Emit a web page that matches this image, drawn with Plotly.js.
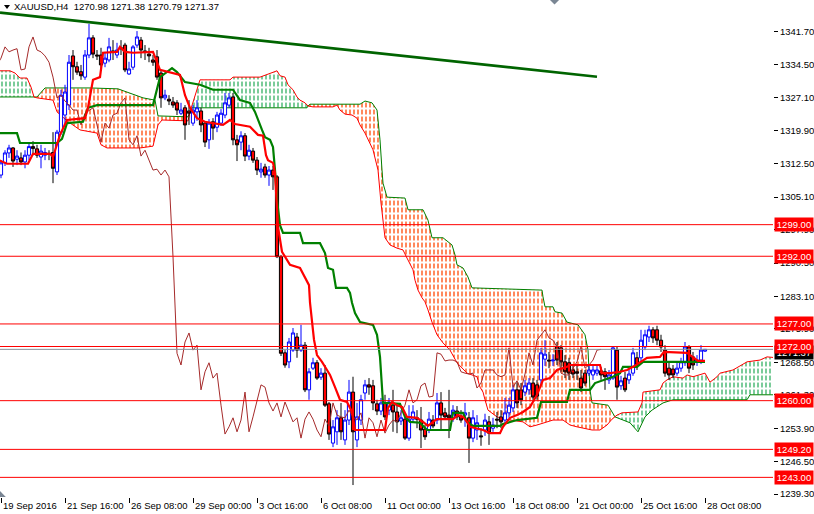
<!DOCTYPE html>
<html><head><meta charset="utf-8">
<script src="https://cdn.plot.ly/plotly-3.0.1.min.js"></script>
<style>html,body{margin:0;padding:0;background:#fff;}#chart{width:814px;height:514px;}</style>
</head><body><div id="chart"></div>
<script>
// ---- axis labels ----
const tickIdx = [0,16,32,48,64,80,96,112,128,144,160,176];
const tickLabels = ["19 Sep 2016","21 Sep 16:00","26 Sep 08:00","29 Sep 00:00","3 Oct 16:00","6 Oct 08:00","11 Oct 00:00","13 Oct 16:00","18 Oct 08:00","21 Oct 00:00","25 Oct 16:00","28 Oct 08:00"];
const priceTicks = [1341.70,1334.50,1327.10,1319.90,1312.50,1305.10,1297.90,1290.50,1283.10,1275.90,1268.50,1261.30,1253.90,1246.50,1239.30];
const levels = [1299.00,1292.00,1277.00,1272.00,1260.00,1249.20,1243.00];
const lastPrice = 1271.37;
const header = "XAUUSD,H4\u00a0\u00a01270.98 1271.38 1270.79 1271.37";

// ---- XAUUSD H4 candles (bar 0 = 19 Sep 2016 00:00) ----
const open = [1310.0,1312.7,1314.9,1316.0,1313.5,1313.8,1312.9,1314.4,1316.3,1315.8,1314.0,1314.4,1314.8,1315.0,1310.7,1319.5,1323.3,1325.5,1336.4,1334.0,
1332.9,1331.7,1336.6,1340.4,1336.6,1336.6,1334.8,1335.5,1337.5,1336.6,1338.2,1338.8,1332.4,1333.9,1338.8,1339.9,1337.5,1336.8,1335.5,1336.2,
1332.6,1327.1,1326.8,1326.2,1326.0,1323.7,1324.9,1324.2,1321.5,1324.0,1324.2,1321.5,1317.8,1321.8,1320.6,1321.5,1323.3,1325.5,1327.3,1317.8,
1317.3,1318.7,1314.2,1315.3,1313.3,1310.7,1311.8,1310.0,1311.1,1309.6,1291.9,1270.6,1268.6,1271.2,1274.1,1271.2,1272.3,1262.4,1267.2,1268.4,
1265.2,1266.1,1259.3,1250.6,1253.1,1256.2,1251.3,1255.7,1261.9,1251.3,1255.7,1261.7,1263.5,1263.3,1259.3,1257.7,1259.5,1257.9,1259.0,1257.5,
1255.5,1255.9,1251.7,1255.9,1256.2,1255.7,1253.7,1253.5,1255.7,1255.7,1259.5,1257.3,1256.8,1256.2,1257.7,1256.6,1256.8,1256.2,1251.7,1253.5,
1252.2,1253.5,1255.3,1253.9,1255.9,1256.4,1255.7,1257.3,1258.4,1262.4,1262.4,1261.9,1262.4,1263.9,1263.5,1264.6,1269.2,1269.0,1268.8,1271.9,
1271.7,1268.6,1268.4,1266.8,1266.4,1265.0,1266.1,1266.1,1265.7,1266.1,1266.6,1266.4,1264.6,1265.0,1271.2,1263.3,1265.0,1264.6,1266.1,1269.5,
1269.5,1271.9,1274.1,1275.7,1275.7,1273.4,1271.2,1267.2,1267.0,1266.1,1267.2,1268.4,1271.9,1269.7,1268.6,1269.0,1270.98];
const high = [1313.3,1315.5,1316.7,1316.2,1315.5,1315.0,1315.5,1317.0,1317.5,1316.7,1316.7,1316.0,1315.5,1319.5,1320.0,1328.9,1330.0,1336.6,1337.7,1335.1,
1334.4,1337.7,1343.5,1341.0,1337.7,1338.2,1337.3,1340.4,1339.9,1339.3,1339.9,1339.3,1335.1,1338.8,1341.9,1340.6,1338.8,1338.2,1336.6,1337.7,
1333.3,1328.9,1327.7,1327.3,1326.6,1326.0,1325.5,1326.6,1325.5,1326.6,1324.9,1321.8,1322.4,1322.6,1324.0,1324.6,1328.2,1328.2,1328.2,1318.9,
1319.7,1319.3,1316.7,1316.0,1314.0,1312.7,1312.5,1312.0,1312.0,1310.0,1292.3,1271.2,1273.9,1276.1,1275.0,1276.8,1273.0,1267.2,1269.5,1269.0,
1267.2,1267.9,1259.7,1255.7,1257.9,1259.5,1257.9,1264.6,1265.3,1259.5,1261.3,1264.6,1265.0,1264.6,1260.2,1260.6,1261.3,1260.6,1262.4,1259.0,
1257.9,1256.8,1259.0,1259.0,1257.9,1258.6,1254.6,1257.5,1256.8,1261.7,1261.9,1258.4,1262.4,1259.0,1258.8,1257.9,1259.5,1257.5,1257.9,1256.8,
1253.9,1257.1,1256.6,1256.2,1257.5,1257.9,1260.6,1260.6,1263.5,1264.1,1263.9,1264.6,1265.0,1265.0,1264.6,1271.7,1273.4,1270.8,1270.3,1273.0,
1272.3,1270.1,1269.5,1267.9,1267.9,1266.8,1266.8,1267.9,1267.7,1267.7,1267.5,1267.2,1266.8,1272.1,1271.9,1265.5,1266.4,1266.8,1271.7,1270.8,
1275.7,1275.7,1276.6,1276.3,1276.6,1274.6,1272.3,1268.4,1267.9,1268.6,1269.5,1273.0,1272.3,1270.8,1270.1,1272.3,1271.38];
const low = [1309.3,1312.0,1313.8,1311.8,1312.2,1312.2,1311.5,1313.3,1314.4,1313.8,1311.5,1313.3,1313.3,1308.2,1310.0,1318.9,1321.1,1324.4,1331.1,1332.2,
1331.1,1331.1,1335.9,1335.9,1335.5,1333.7,1333.9,1335.0,1335.5,1335.9,1336.6,1332.8,1332.2,1333.3,1338.2,1335.9,1335.5,1335.0,1334.2,1331.1,
1324.9,1326.6,1325.5,1324.9,1323.3,1323.3,1317.8,1321.1,1320.9,1322.0,1319.5,1316.2,1315.8,1317.8,1319.5,1320.9,1322.6,1324.9,1316.6,1313.1,
1315.5,1313.1,1313.3,1312.7,1310.0,1309.4,1309.4,1307.6,1306.7,1291.6,1269.9,1267.3,1267.2,1270.8,1269.5,1270.8,1261.9,1260.2,1266.8,1264.6,
1264.6,1258.6,1251.3,1249.7,1250.2,1251.3,1250.2,1254.6,1241.3,1249.7,1254.6,1260.2,1261.3,1257.9,1256.8,1256.8,1255.7,1256.8,1253.1,1252.8,
1254.6,1251.3,1251.1,1255.3,1253.9,1249.5,1251.3,1252.8,1253.9,1254.8,1253.5,1255.7,1251.7,1255.3,1255.7,1255.1,1254.2,1246.2,1250.8,1251.3,
1250.0,1252.2,1250.2,1253.1,1253.9,1253.9,1254.8,1256.2,1257.5,1258.4,1259.0,1261.0,1261.3,1260.2,1260.2,1263.7,1267.7,1267.2,1267.7,1267.9,
1266.4,1265.0,1264.6,1265.0,1264.6,1261.9,1263.3,1265.5,1264.6,1265.5,1264.6,1262.4,1263.7,1264.6,1260.2,1262.4,1261.9,1263.7,1265.5,1266.8,
1268.6,1271.2,1273.0,1272.8,1272.3,1270.8,1265.3,1264.6,1265.0,1265.5,1266.4,1267.7,1266.1,1266.8,1267.7,1268.1,1270.79];
const close = [1312.7,1314.9,1316.0,1313.1,1314.2,1312.9,1314.4,1316.3,1315.9,1314.4,1315.3,1315.0,1314.6,1311.5,1319.5,1327.7,1328.4,1335.0,1334.0,1332.8,
1332.0,1336.6,1340.4,1336.8,1336.4,1334.4,1335.9,1338.4,1337.3,1337.7,1338.0,1333.3,1333.5,1338.4,1340.6,1337.7,1337.3,1336.4,1335.0,1331.7,
1327.1,1327.7,1326.4,1325.5,1324.4,1324.4,1321.1,1323.7,1324.4,1324.9,1321.1,1317.3,1321.5,1320.4,1323.3,1323.7,1326.0,1327.1,1317.8,1316.7,
1318.7,1314.2,1315.5,1313.3,1311.1,1311.3,1310.0,1311.1,1309.6,1291.9,1270.5,1267.9,1273.0,1275.0,1271.2,1272.3,1262.4,1266.4,1268.4,1265.0,
1266.1,1259.0,1252.6,1254.2,1256.2,1253.1,1255.7,1261.9,1253.1,1256.4,1260.2,1263.5,1263.0,1259.5,1257.7,1259.5,1256.4,1259.7,1257.5,1255.3,
1256.2,1251.7,1255.9,1257.5,1255.9,1253.5,1252.0,1255.9,1254.4,1259.5,1256.8,1256.4,1256.2,1257.9,1256.4,1255.7,1257.3,1251.7,1256.2,1255.1,
1252.0,1255.7,1252.8,1254.6,1255.7,1255.3,1257.3,1259.0,1262.4,1259.5,1260.2,1263.3,1263.9,1260.8,1261.0,1270.6,1270.3,1268.8,1269.0,1269.0,
1268.6,1266.4,1266.1,1265.9,1266.1,1262.8,1263.9,1266.8,1266.8,1266.8,1265.7,1265.3,1265.7,1271.7,1263.0,1264.4,1262.4,1265.9,1270.6,1267.9,
1273.4,1274.6,1275.7,1273.9,1273.4,1271.9,1266.1,1265.7,1265.7,1267.2,1268.6,1271.9,1267.2,1267.9,1269.0,1271.2,1271.37];

// ---- Ichimoku lines (bar index, price) ----
const tenkanX = [-0.5,1.5,6.75,8,12.25,13,14.75,16.5,21,21.75,23,24.75,25.25,25.5,29,29.75,31,33,38,39,39.75,44.75,46,47.25,49,51,55.5,57.25,58.5,62.25,64.25,65.5,66.25,66.75,68,68.5,69.25,70.25,72.25,74.75,76,77,77.25,77.75,78.25,79,80.25,81.5,82.25,83.5,84.75,86.5,87.75,88.5,96,96.75,97.75,99,100.25,101.5,104,105.5,106.75,108,109,113,114.25,115.5,116.5,117.25,119,120.5,122.25,124.75,125.5,127.25,129,130.5,132.25,134,135.5,137.25,139,141.5,142.25,149.75,150.25,152.25,154.75,156.5,158,159.75,161.5,164.75,165.75,171.5,173,174.25,176];
const tenkanY = [1313.3,1312.5,1312.5,1314.7,1314.7,1314.0,1318.9,1322.2,1322.6,1324.9,1331.1,1331.7,1335.1,1337.1,1337.3,1338.4,1337.3,1337.1,1337.3,1335.1,1333.3,1332.2,1327.7,1324.9,1322.6,1321.8,1321.1,1322.2,1321.3,1320.7,1318.9,1318.7,1314.4,1313.3,1312.7,1310.5,1298.5,1293.0,1290.1,1289.4,1287.2,1285.6,1281.7,1277.2,1273.5,1270.1,1268.6,1266.8,1265.7,1263.0,1260.2,1259.7,1257.5,1253.5,1253.5,1258.4,1259.7,1259.0,1258.6,1256.4,1256.2,1255.3,1254.4,1255.3,1255.9,1255.9,1256.8,1256.4,1255.3,1254.2,1253.9,1253.5,1252.8,1252.8,1254.2,1256.2,1256.8,1257.5,1258.6,1261.3,1264.6,1265.0,1266.8,1267.5,1267.9,1267.9,1266.1,1266.1,1266.4,1266.8,1267.5,1268.6,1269.5,1269.7,1270.8,1270.6,1269.7,1268.8,1268.8];
const kijunX = [-0.5,4,4.75,14,15.25,16.5,20.5,21.75,24,38,39.75,42.75,44,46,49.75,53,58,59.75,62.25,63.5,65.25,66,67.25,68,68.5,69,69.75,70.5,74.75,75.5,79.75,81,81.75,83,83.75,86.5,87.25,87.75,88.5,89.75,93,94,94.75,95.5,99.75,101,102.25,104.75,106.5,112.25,113,115.5,116.5,118,124.75,125.5,129,134,135,141.5,142.25,147.25,148.5,151,153,154.75,155.5,159,160.5,176];
const kijunY = [1319.3,1319.3,1317.1,1317.1,1318.0,1321.5,1321.8,1324.9,1325.5,1325.5,1331.7,1333.7,1332.8,1330.6,1330.0,1328.9,1328.9,1326.6,1326.0,1324.0,1320.0,1318.4,1317.8,1316.2,1311.1,1304.5,1298.9,1297.2,1297.2,1294.9,1294.9,1292.7,1289.4,1289.0,1285.0,1285.0,1283.9,1281.7,1279.4,1277.4,1276.8,1274.6,1269.7,1259.5,1259.3,1256.4,1255.3,1255.1,1253.5,1253.5,1257.3,1257.3,1255.3,1254.4,1254.4,1254.8,1255.7,1256.2,1259.7,1259.7,1262.4,1262.4,1263.9,1264.6,1265.3,1266.1,1267.5,1267.5,1268.6,1268.6];
const spanAX = [-0.5,2.25,3.5,4.75,6.5,7,7.5,8.25,9,13,14,16.5,19.75,24,25,26.5,34.75,38,39.25,40.25,46.75,47.25,47.75,48.5,49.75,57.25,58,64.75,67.25,69,69.75,71,71.75,73,74,74.75,76,76.75,78,83,84,84.75,86,87.75,89,89.75,91,92.25,93,94.25,95,96,97.25,99,100.5,101.5,103,103.5,104.25,105.25,106,106.75,107.75,109,110.5,112.25,114,116.5,119,119.75,120.5,121,121.75,124,127.25,130.5,132.25,134,138,140.5,142.25,144,147.75,149.75,151.5,152.75,153.5,154,155.25,159.25,160.25,160.5,164.75,165.5,166.5,168,170.5,171.5,173,176,177.25,179,179.75,183,186.5,189.75,191.5,194];
const spanAY = [1333.1,1333.1,1332.6,1331.5,1331.5,1330.6,1329.5,1327.3,1327.1,1326.6,1324.0,1322.0,1320.0,1319.3,1316.7,1316.0,1316.0,1316.4,1321.1,1322.2,1322.0,1324.0,1325.5,1327.7,1331.1,1331.1,1331.7,1331.7,1332.6,1333.1,1332.0,1331.7,1330.0,1328.9,1327.3,1326.6,1326.0,1325.3,1325.1,1325.1,1325.5,1324.4,1323.5,1323.3,1322.6,1321.1,1319.3,1317.1,1315.6,1311.1,1303.8,1296.1,1294.5,1293.8,1293.4,1291.6,1289.0,1286.7,1284.5,1282.8,1281.9,1280.1,1277.4,1274.6,1272.8,1271.2,1268.4,1266.1,1265.3,1263.0,1261.9,1260.2,1257.9,1256.4,1255.7,1255.3,1254.2,1254.6,1255.7,1255.7,1254.6,1254.2,1253.5,1253.5,1254.6,1255.9,1256.4,1256.8,1257.3,1257.5,1259.5,1261.9,1262.4,1263.9,1264.6,1265.3,1265.0,1265.7,1265.3,1266.1,1264.1,1265.3,1266.1,1266.8,1268.6,1269.0,1269.7,1269.5];
const spanBX = [-0.5,8.25,9,11,22.25,29.25,32.25,35.5,38.5,39.25,46.75,47.25,47.75,76.5,76.75,77.25,89.75,91,92.75,94,94.5,94.75,95.25,95.5,96.5,101,101.75,105.5,106.75,107.25,107.75,110.5,112.75,113.5,114,115.5,116.75,117.75,135.25,135.5,136,138,138.5,140.25,141.5,144.25,146,146.75,147.25,147.75,151.75,153.5,157.25,159.25,161,162.75,165.5,168,186.5,187.25,194];
const spanBY = [1327.3,1327.3,1327.3,1329.3,1329.3,1329.1,1328.2,1327.1,1326.6,1323.1,1322.9,1324.0,1324.9,1324.9,1325.3,1325.7,1325.7,1326.4,1326.0,1324.4,1320.6,1317.8,1311.1,1308.2,1305.1,1304.9,1302.3,1302.3,1300.0,1297.8,1296.1,1296.1,1294.5,1292.3,1290.1,1289.4,1287.4,1285.0,1284.5,1283.0,1280.8,1280.8,1279.7,1279.4,1277.4,1276.8,1274.6,1271.2,1262.4,1259.5,1259.0,1256.4,1255.1,1253.1,1256.4,1257.9,1259.5,1260.2,1260.2,1261.3,1261.3];
const cloudTwists = [-0.5,8.25,47.25,76.75,153.5,194];
const cloudBullish = [true,false,true,false,true];
const chikouShift = 26;
// ---- drawn trend line ----
const trendX = [-0.25,149];
const trendY = [1346.0,1331.8];

const FONT = 'Liberation Sans, Arial, sans-serif';
const bars = open.map((_, k) => k);
const traces = [];

function slice(xs, ys, lo, hi){
  const X=[],Y=[];
  for(let k=0;k<xs.length;k++){ if(xs[k]>=lo-1e-9 && xs[k]<=hi+1e-9){X.push(xs[k]);Y.push(ys[k]);} }
  return [X,Y];
}
function cloudPair(bx,by,ax,ay,pattern){
  traces.push({type:'scatter',mode:'lines',x:bx,y:by,line:{width:0},hoverinfo:'skip',zorder:0});
  traces.push({type:'scatter',mode:'lines',x:ax,y:ay,line:{width:0},fill:'tonexty',
    fillcolor:'rgba(255,255,255,0)',fillpattern:pattern,hoverinfo:'skip',zorder:0});
}
for(let s=0;s<cloudBullish.length;s++){
  const lo=cloudTwists[s], hi=cloudTwists[s+1];
  const [bx,by]=slice(spanBX,spanBY,lo,hi);
  const [ax,ay]=slice(spanAX,spanAY,lo,hi);
  const col = cloudBullish[s] ? '#2fae5f' : '#ff4500';
  // vertical hatch
  cloudPair(bx,by,ax,ay,{shape:'|',fgcolor:col,bgcolor:'rgba(255,255,255,0)',size:4,solidity:0.32});
  // white horizontal breaks turn the hatch into short dashes
  cloudPair(bx,by,ax,ay,{shape:'-',fgcolor:'#ffffff',bgcolor:'rgba(255,255,255,0)',size:7,solidity:0.3});
}
traces.push({type:'scatter',mode:'lines',x:spanBX,y:spanBY,line:{color:'#008000',width:1},hoverinfo:'skip',zorder:1});
traces.push({type:'scatter',mode:'lines',x:spanAX,y:spanAY,line:{color:'#ff0000',width:1},hoverinfo:'skip',zorder:1});
traces.push({type:'candlestick',x:bars,open:open,high:high,low:low,close:close,
  increasing:{line:{color:'#0000ff',width:1},fillcolor:'#ffffff'},
  decreasing:{line:{color:'#000000',width:1},fillcolor:'#ff0000'},
  whiskerwidth:0,hoverinfo:'skip',zorder:2});
traces.push({type:'scatter',mode:'lines',x:bars.map(k=>k-chikouShift),y:close,line:{color:'#a52a2a',width:1},hoverinfo:'skip',zorder:3});
traces.push({type:'scatter',mode:'lines',x:kijunX,y:kijunY,line:{color:'#008000',width:2.2},hoverinfo:'skip',zorder:3});
traces.push({type:'scatter',mode:'lines',x:tenkanX,y:tenkanY,line:{color:'#ff0000',width:2.2},hoverinfo:'skip',zorder:3});
traces.push({type:'scatter',mode:'lines',x:trendX,y:trendY,line:{color:'#006400',width:2.6},hoverinfo:'skip',zorder:3});

const shapes = [];
levels.forEach(v=>shapes.push({type:'line',xref:'paper',x0:0,x1:1,yref:'y',y0:v,y1:v,line:{color:'#ff0000',width:1},layer:'above'}));
shapes.push({type:'line',xref:'paper',x0:0,x1:1,yref:'y',y0:lastPrice,y1:lastPrice,line:{color:'#8a8f99',width:1},layer:'above'});
// small MT4 markers
shapes.push({type:'path',xref:'paper',yref:'paper',path:'M 0.0052 0.990 L 0.0129 0.990 L 0.0091 0.982 Z',fillcolor:'#000',line:{width:0}});
shapes.push({type:'path',xref:'paper',yref:'paper',path:'M 0.7115 1 L 0.7232 1 L 0.7174 0.991 Z',fillcolor:'#7a8694',line:{width:0}});
shapes.push({type:'path',xref:'paper',yref:'paper',path:'M 0 0.012 L 0 0 L 0.0075 0 Z',fillcolor:'#7a8694',line:{width:0}});

const annotations = [];
// time labels, left-aligned just right of each tick
tickIdx.forEach((v,k)=>annotations.push({xref:'x',x:v,xanchor:'left',xshift:1,yref:'paper',y:0,yanchor:'top',yshift:-2,
  text:tickLabels[k],showarrow:false,font:{family:FONT,size:9.5,color:'#000'},borderpad:0}));
annotations.push({xref:'paper',x:1,xanchor:'left',xshift:1,yref:'y',y:lastPrice,yanchor:'middle',yshift:-3,text:lastPrice.toFixed(2),
  showarrow:false,bgcolor:'#000',font:{family:FONT,size:9.5,color:'#fff'},borderpad:1,width:36,height:11});
levels.forEach(v=>annotations.push({xref:'paper',x:1,xanchor:'left',xshift:1,yref:'y',y:v,yanchor:'middle',text:v.toFixed(2),
  showarrow:false,bgcolor:'#ff0000',font:{family:FONT,size:9.5,color:'#fff'},borderpad:1,width:36,height:11}));
annotations.push({xref:'paper',x:0,xanchor:'left',xshift:13,yref:'paper',y:1,yanchor:'top',yshift:0,text:header,showarrow:false,
  font:{family:FONT,size:9.5,color:'#000'},borderpad:0});

const layout = {
  width:814,height:514,margin:{l:0,r:41,t:0,b:17,pad:0},
  paper_bgcolor:'#ffffff',plot_bgcolor:'#ffffff',showlegend:false,
  boxgap:0.12,boxgroupgap:0.1,
  xaxis:{range:[-0.25,193],showgrid:false,zeroline:false,showline:true,linecolor:'#000',linewidth:1,
    ticks:'outside',ticklen:5,tickcolor:'#000',tickvals:tickIdx,showticklabels:false,
    rangeslider:{visible:false},fixedrange:true},
  yaxis:{side:'right',range:[1238.65,1348.79],showgrid:false,zeroline:false,showline:true,linecolor:'#000',linewidth:1,
    ticks:'outside',ticklen:4,tickcolor:'#000',tickvals:priceTicks,ticktext:priceTicks.map(v=>v.toFixed(2)),
    tickfont:{family:FONT,size:9.5,color:'#000'},fixedrange:true},
  shapes:shapes,annotations:annotations
};
Plotly.newPlot('chart',traces,layout,{displayModeBar:false,staticPlot:true});
</script></body></html>
